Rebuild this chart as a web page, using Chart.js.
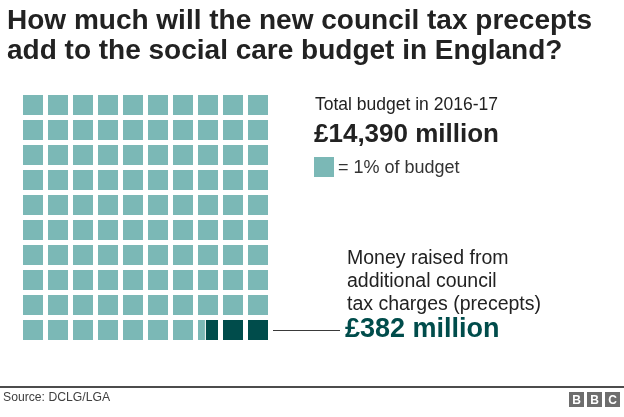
<!DOCTYPE html>
<html>
<head>
<meta charset="utf-8">
<script src="https://cdn.jsdelivr.net/npm/chart.js@4"></script>
<style>
  html, body { margin: 0; padding: 0; background: #fff; }
  #waffle { display: block; }
</style>
</head>
<body>
<canvas id="waffle" width="624" height="417"></canvas>
<script>
// Figures (£ million)
const totalBudget = 14390;   // total social care budget 2016-17
const preceptMoney = 382;    // raised from extra council tax precepts

// Waffle grid: 10 rows x 10 columns, each cell = 1% of budget
const rowLabels = ['r1', 'r2', 'r3', 'r4', 'r5', 'r6', 'r7', 'r8', 'r9', 'r10'];
const colLabels = ['c1', 'c2', 'c3', 'c4', 'c5', 'c6', 'c7', 'c8', 'c9', 'c10'];

const titleLines = [
    'How much will the new council tax precepts',
    'add to the social care budget in England?'
];
const moneyLines = ['Money raised from', 'additional council', 'tax charges (precepts)'];

const LIGHT = '#7bb8b6';
const DARK = '#004c4b';

// Build the cells: light share first, precept share fills the tail
const cellCount = rowLabels.length * colLabels.length;
const darkCells = preceptMoney / totalBudget * cellCount;
const lightCells = cellCount - darkCells;
const SQ = 0.8;     // square width in column units
const SPLIT_GAP = 0.04;

const lightBars = [];
const darkBars = [];
for (let k = 0; k < cellCount; k++) {
    const r = rowLabels[Math.floor(k / colLabels.length)];
    const c = k % colLabels.length;
    const x0 = c, x1 = c + SQ;
    if (k + 1 <= lightCells) {
        lightBars.push({ y: r, x: [x0, x1] });
    } else if (k >= lightCells) {
        darkBars.push({ y: r, x: [x0, x1] });
    } else {
        // partially filled cell
        const split = x0 + SQ * (lightCells - k);
        lightBars.push({ y: r, x: [x0, split] });
        darkBars.push({ y: r, x: [split + SPLIT_GAP, x1] });
    }
}

// Texts around the waffle
const annotations = {
    id: 'annotations',
    afterDraw(chart) {
        const ctx = chart.ctx;
        const yScale = chart.scales.y;
        const xScale = chart.scales.x;
        ctx.save();
        ctx.textBaseline = 'alphabetic';
        ctx.textAlign = 'left';

        // Title
        ctx.fillStyle = '#222222';
        ctx.font = 'bold 28px "Liberation Sans", Arial, sans-serif';
        ctx.fillText(titleLines[0], 7, 29);
        ctx.fillText(titleLines[1], 7, 59);

        // Total budget block
        ctx.fillStyle = '#222222';
        ctx.font = '17.5px "Liberation Sans", Arial, sans-serif';
        ctx.fillText('Total budget in 2016-17', 315, 110);
        ctx.font = 'bold 26px "Liberation Sans", Arial, sans-serif';
        ctx.fillText('£' + totalBudget.toLocaleString('en-GB') + ' million', 314, 142);

        // Key
        ctx.fillStyle = LIGHT;
        ctx.fillRect(314, 157, 20, 20);
        ctx.fillStyle = '#333333';
        ctx.font = '18px "Liberation Sans", Arial, sans-serif';
        ctx.fillText('= 1% of budget', 338, 173);

        // Precept label
        ctx.fillStyle = '#222222';
        ctx.font = '19.5px "Liberation Sans", Arial, sans-serif';
        moneyLines.forEach((t, i) => ctx.fillText(t, 347, 264 + i * 23));
        ctx.fillStyle = DARK;
        ctx.font = 'bold 27px "Liberation Sans", Arial, sans-serif';
        ctx.fillText('£' + preceptMoney + ' million', 345, 337);

        // Leader line from the last square
        const lineY = Math.round(yScale.getPixelForValue(rowLabels.length - 1)) + 0.5;
        ctx.strokeStyle = '#3a3a3a';
        ctx.lineWidth = 1;
        ctx.beginPath();
        ctx.moveTo(xScale.getPixelForValue(colLabels.length - 1 + SQ) + 5, lineY);
        ctx.lineTo(340, lineY);
        ctx.stroke();

        // Footer
        ctx.strokeStyle = '#111111';
        ctx.lineWidth = 1.5;
        ctx.beginPath();
        ctx.moveTo(0, 387);
        ctx.lineTo(624, 387);
        ctx.stroke();

        ctx.fillStyle = '#404040';
        ctx.font = '12.2px "Liberation Sans", Arial, sans-serif';
        ctx.fillText('Source: DCLG/LGA', 3, 401);

        // BBC blocks
        ctx.font = 'bold 12px "Liberation Sans", Arial, sans-serif';
        ctx.textAlign = 'center';
        ['B', 'B', 'C'].forEach((ch, i) => {
            const bx = 569 + i * 18;
            ctx.fillStyle = '#6d6d6d';
            ctx.fillRect(bx, 392, 15, 15);
            ctx.fillStyle = '#ffffff';
            ctx.fillText(ch, bx + 7.5, 404);
        });
        ctx.restore();
    }
};

new Chart(document.getElementById('waffle'), {
    type: 'bar',
    data: {
        labels: rowLabels,
        datasets: [
            {
                label: 'Rest of budget',
                data: lightBars,
                backgroundColor: LIGHT,
                borderWidth: 0,
                grouped: false,
                barPercentage: 0.8,
                categoryPercentage: 1
            },
            {
                label: 'Precepts',
                data: darkBars,
                backgroundColor: DARK,
                borderWidth: 0,
                grouped: false,
                barPercentage: 0.8,
                categoryPercentage: 1
            }
        ]
    },
    options: {
        indexAxis: 'y',
        responsive: false,
        animation: false,
        devicePixelRatio: 1,
        layout: { padding: { left: 23, right: 351, top: 92.5, bottom: 74.5 } },
        scales: {
            x: { type: 'linear', min: 0, max: colLabels.length, display: false },
            y: { type: 'category', display: false }
        },
        plugins: {
            legend: { display: false },
            tooltip: { enabled: false }
        }
    },
    plugins: [annotations]
});
</script>
</body>
</html>
